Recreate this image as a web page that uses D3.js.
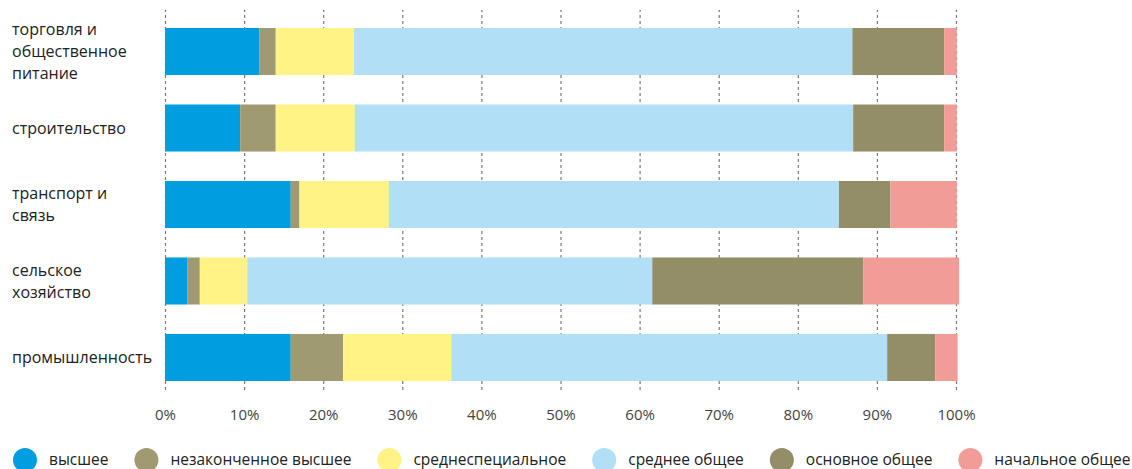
<!DOCTYPE html>
<html>
<head>
<meta charset="utf-8">
<script src="https://cdn.jsdelivr.net/npm/d3@7"></script>
<style>
  html, body { margin: 0; padding: 0; background: #fff; }
  svg { display: block; font-family: "Open Sans", "Noto Sans", sans-serif; }
</style>
</head>
<body>
<svg id="chart" width="1132" height="469"></svg>
<script>
// ---- data ----
const categories = [
  "торговля и общественное питание",
  "строительство",
  "транспорт и связь",
  "сельское хозяйство",
  "промышленность"
];
const seriesNames = [
  "высшее",
  "незаконченное высшее",
  "среднеспециальное",
  "среднее общее",
  "основное общее",
  "начальное общее"
];
const seriesColors = ["#009ee0", "#a09a72", "#fff385", "#b1dff5", "#948e68", "#f29c98"];
// values per category, in series order (percent)
const vTorgovlya      = [11.9, 2.1, 9.9, 63.0, 11.6, 1.6];
const vStroitelstvo   = [9.5, 4.5, 10.0, 63.0, 11.5, 1.6];
const vTransport      = [15.9, 1.1, 11.3, 56.9, 6.5, 8.4];
const vSelskoe        = [2.8, 1.6, 6.0, 51.2, 26.7, 12.1];
const vPromyshlennost = [15.9, 6.6, 13.7, 55.1, 6.1, 2.8];
const tickValues = [0, 10, 20, 30, 40, 50, 60, 70, 80, 90, 100];
const tickLabels = tickValues.map(v => v + "%");

const rows = [vTorgovlya, vStroitelstvo, vTransport, vSelskoe, vPromyshlennost];
const table = categories.map((c, i) => {
  const o = { category: c };
  seriesNames.forEach((s, j) => o[s] = rows[i][j]);
  return o;
});

// ---- chart ----
const svg = d3.select("#chart");
const x = d3.scaleLinear().domain([0, 100]).range([165, 956]);
const y = d3.scaleBand().domain(categories).range([28, 381]).paddingInner(0.385).paddingOuter(0);
const color = d3.scaleOrdinal().domain(seriesNames).range(seriesColors);

// grid
const grid = svg.append("g")
  .attr("transform", "translate(0,390)")
  .call(d3.axisBottom(x).tickValues(tickValues).tickSize(-380).tickFormat(""));
grid.select(".domain").remove();
grid.selectAll("line")
  .attr("stroke", "#7a7a7a")
  .attr("stroke-width", 1.2)
  .attr("stroke-dasharray", "3,3");

// bars
const stack = d3.stack().keys(seriesNames)(table);
svg.append("g").selectAll("g")
  .data(stack)
  .join("g")
  .attr("fill", d => color(d.key))
  .selectAll("rect")
  .data(d => d)
  .join("rect")
  .attr("x", d => x(d[0]))
  .attr("width", d => x(d[1]) - x(d[0]))
  .attr("y", d => y(d.data.category))
  .attr("height", y.bandwidth());

// x axis labels
const ax = svg.append("g")
  .attr("transform", "translate(0,390)")
  .call(d3.axisBottom(x).tickValues(tickValues).tickSize(0).tickPadding(19)
    .tickFormat((d, i) => tickLabels[i]));
ax.select(".domain").remove();
ax.selectAll("text")
  .attr("font-family", "'Open Sans', sans-serif")
  .attr("font-size", 15)
  .attr("fill", "#444");

// category labels with wrapping
const lineH = 22;
const labelG = svg.append("g");
categories.forEach(c => {
  const words = c.split(" ");
  const t = labelG.append("text")
    .attr("font-size", 16)
    .attr("fill", "#222");
  const lines = [];
  let cur = [];
  const tmp = t.append("tspan");
  words.forEach(w => {
    const test = cur.concat([w]).join(" ");
    tmp.text(test);
    if (tmp.node().getComputedTextLength() > 136 && cur.length) {
      lines.push(cur.join(" "));
      cur = [w];
    } else {
      cur.push(w);
    }
  });
  lines.push(cur.join(" "));
  tmp.remove();
  const cy = y(c) + y.bandwidth() / 2;
  const y0 = cy - (lines.length - 1) * lineH / 2;
  lines.forEach((l, i) => {
    t.append("tspan")
      .attr("x", 12)
      .attr("y", y0 + i * lineH)
      .attr("dy", "0.35em")
      .text(l);
  });
});

// legend
const legend = svg.append("g");
let lx = 25;
seriesNames.forEach(s => {
  const g = legend.append("g");
  g.append("circle").attr("cx", lx).attr("cy", 460).attr("r", 12).attr("fill", color(s));
  const t = g.append("text")
    .attr("x", lx + 24)
    .attr("y", 465)
    .attr("font-size", 15.5)
    .attr("fill", "#222")
    .text(s);
  lx = lx + 24 + t.node().getComputedTextLength() + 38;
});
</script>
</body>
</html>
